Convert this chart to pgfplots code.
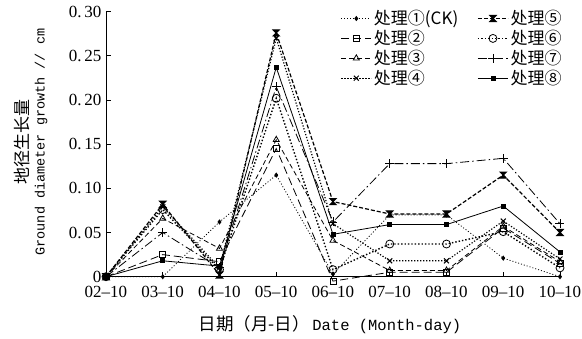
\documentclass[border=0pt]{standalone}
\usepackage{pgfplots}
\pgfplotsset{compat=1.18}
\usepackage{fontspec}
\setmainfont{Liberation Serif}
\setmonofont{Liberation Mono}
\newfontfamily\cjk{Noto Sans CJK SC}
\pgfdeclareplotmark{hourglass}{%
  \pgfpathmoveto{\pgfqpoint{-\pgfplotmarksize}{\pgfplotmarksize}}%
  \pgfpathlineto{\pgfqpoint{\pgfplotmarksize}{\pgfplotmarksize}}%
  \pgfpathlineto{\pgfqpoint{-\pgfplotmarksize}{-\pgfplotmarksize}}%
  \pgfpathlineto{\pgfqpoint{\pgfplotmarksize}{-\pgfplotmarksize}}%
  \pgfpathclose\pgfusepathqfillstroke}
\begin{document}
\begin{tikzpicture}[x=1pt,y=1pt]
\useasboundingbox (0,0) rectangle (582,338);
\begin{axis}[
  at={(106pt,61.3pt)}, anchor=south west,
  scale only axis, width=454pt, height=265pt,
  xmin=0, xmax=8, ymin=0, ymax=0.30,
  axis lines*=left, axis line style={line width=1pt,-},
  tick align=inside, major tick length=5pt,
  tick style={line width=0.8pt,black},
  xtick={0,1,2,3,4,5,6,7,8},
  xticklabels={02–10,03–10,04–10,05–10,06–10,07–10,08–10,09–10,10–10},
  ytick={0,0.05,0.10,0.15,0.20,0.25,0.30},
  yticklabels={0,{0.\,05},{0.\,10},{0.\,15},{0.\,20},{0.\,25},{0.\,30}},
  tick label style={font=\fontsize{17}{17}\selectfont},
  xticklabel style={yshift=-6pt},
  yticklabel style={xshift=-1pt},
  clip=false,
  legend columns=2,
  legend cell align=left,
  legend style={draw=none, fill=none, at={(0.51,1.02)}, anchor=north west,
    font=\cjk\fontsize{17}{18}\selectfont, row sep=0pt,
    /tikz/every even column/.append style={column sep=17pt}},
  legend image code/.code={\draw[mark repeat=2,mark phase=2,#1] plot coordinates {(0pt,0pt) (15pt,0pt) (30pt,0pt)};},
  every axis plot/.append style={black},
]
% 1 CK
\addplot[line width=0.8pt, dash pattern=on 1pt off 2pt, mark=diamond*, mark size=2pt, mark options={solid}]
 coordinates {(0,0) (1,0) (2,0.062) (3,0.115) (4,0.003) (5,0.070) (6,0.070) (7,0.021) (8,0.000)};
\addlegendentry{处理①(CK)}
% 5
\addplot[line width=1.2pt, dash pattern=on 4pt off 2pt, mark=hourglass, mark size=3pt, mark options={solid}]
 coordinates {(0,0) (1,0.082) (2,0.002) (3,0.276) (4,0.085) (5,0.071) (6,0.071) (7,0.115) (8,0.050)};
\addlegendentry{处理⑤}
% 2
\addplot[line width=0.8pt, dash pattern=on 8pt off 4pt, mark=square, mark size=3pt, mark options={solid,fill=white}]
 coordinates {(0,0) (1,0.025) (2,0.017) (3,0.145) (4,-0.005) (5,0.005) (6,0.005) (7,0.055) (8,0.015)};
\addlegendentry{处理②}
% 6
\addplot[line width=1.4pt, dash pattern=on 1.4pt off 2pt, mark=o, mark size=4pt, mark options={solid,fill=white,line width=0.8pt}]
 coordinates {(0,0) (1,0.076) (2,0.008) (3,0.202) (4,0.008) (5,0.037) (6,0.037) (7,0.051) (8,0.010)};
\addlegendentry{处理⑥}
% 3
\addplot[line width=0.8pt, dash pattern=on 5pt off 3pt, mark=triangle, mark size=3.5pt, mark options={solid,fill=white}]
 coordinates {(0,0) (1,0.066) (2,0.032) (3,0.155) (4,0.041) (5,0.007) (6,0.007) (7,0.057) (8,0.017)};
\addlegendentry{处理③}
% 7
\addplot[line width=0.8pt, dash pattern=on 9pt off 3pt on 1.5pt off 3pt, mark=+, mark size=4.5pt, mark options={solid}]
 coordinates {(0,0) (1,0.050) (2,0.010) (3,0.215) (4,0.062) (5,0.128) (6,0.128) (7,0.134) (8,0.060)};
\addlegendentry{处理⑦}
% 4
\addplot[line width=1.2pt, dash pattern=on 1.2pt off 1.8pt, mark=x, mark size=3.5pt, mark options={solid,line width=1pt}]
 coordinates {(0,0) (1,0.079) (2,0.010) (3,0.270) (4,0.060) (5,0.018) (6,0.018) (7,0.063) (8,0.020)};
\addlegendentry{处理④}
% 8
\addplot[line width=0.8pt, mark=square*, mark size=2pt]
 coordinates {(0,0) (1,0.018) (2,0.012) (3,0.237) (4,0.048) (5,0.059) (6,0.059) (7,0.080) (8,0.028)};
\addlegendentry{处理⑧}
\end{axis}
\node[rotate=90, align=center, inner sep=0pt] at (31,196)
  {{\cjk\fontsize{17}{26}\selectfont 地径生长量}\\[4pt]{\ttfamily\fontsize{13.5}{16}\selectfont Ground diameter growth // cm}};
\node[inner sep=0pt] at (330,13)
  {{\cjk\fontsize{17.5}{18}\selectfont 日期（月-日）}\ {\ttfamily\fontsize{15.5}{18}\selectfont Date (Month-day)}};
\end{tikzpicture}
\end{document}
